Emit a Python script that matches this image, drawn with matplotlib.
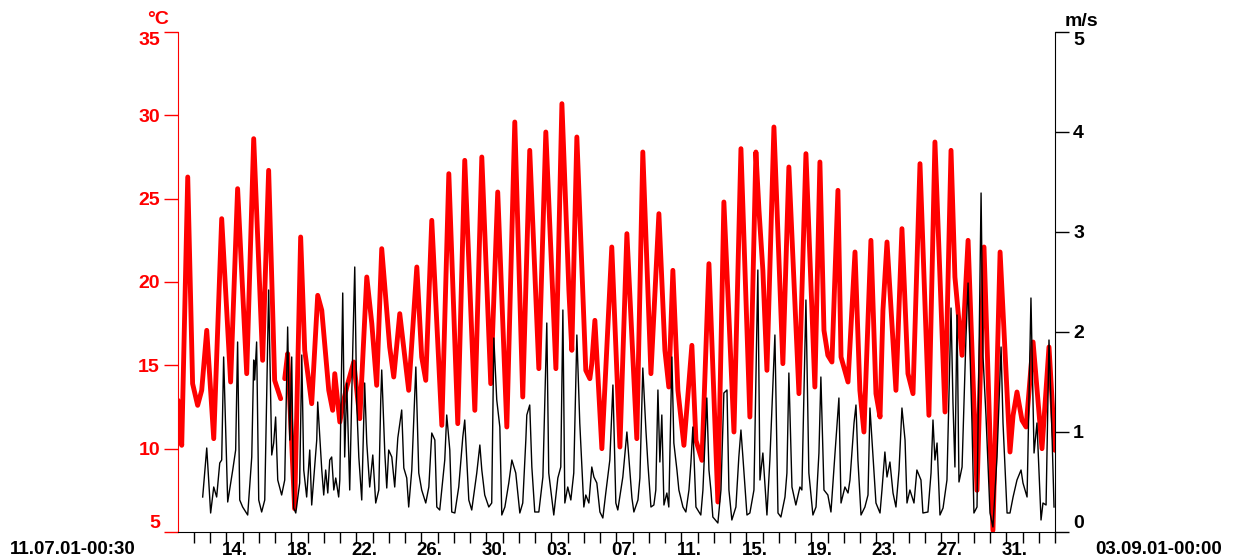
import numpy as np
import pandas as pd
import matplotlib
matplotlib.use("Agg")
import matplotlib.pyplot as plt

plt.rcParams['font.family'] = ['Liberation Sans', 'DejaVu Sans']
plt.rcParams['font.weight'] = 'bold'

# Daten (Tage seit 11.07.01 00:00)

t0 = pd.Timestamp('2001-07-11 00:00')
t_end = pd.Timestamp('2001-09-03 00:00')

temp_tag = [0.02, 0.25, 0.62, 0.92, 1.23, 1.48, 1.79, 2.22, 2.71, 3.26,
            3.69, 4.25, 4.68, 5.23, 5.60, 5.97, 6.34, 6.46, 6.59, 6.77,
            7.20, 7.57, 7.82, 8.25, 8.62, 8.87, 9.30, 9.54, 9.67, 9.98,
            10.22, 10.41, 10.84, 11.21, 11.64, 11.95, 12.25, 12.56, 13.05, 13.30,
            13.67, 14.22, 14.72, 15.02, 15.27, 15.64, 16.26, 16.69, 17.24, 17.67,
            18.29, 18.72, 19.27, 19.70, 20.26, 20.75, 21.24, 21.67, 22.23, 22.66,
            23.28, 23.65, 24.08, 24.26, 24.57, 25.12, 25.37, 25.49, 25.68, 26.11,
            26.72, 27.22, 27.65, 28.26, 28.63, 29.13, 29.62, 29.99, 30.23, 30.48,
            30.79, 31.16, 31.65, 31.90, 32.27, 32.70, 33.25, 33.62, 34.24, 34.67,
            35.22, 35.59, 35.78, 36.02, 36.27, 36.70, 37.25, 37.62, 38.24, 38.67,
            39.22, 39.53, 39.78, 40.02, 40.27, 40.64, 40.83, 41.26, 41.69, 41.99,
            42.24, 42.67, 42.98, 43.23, 43.41, 43.66, 44.21, 44.58, 44.95, 45.26,
            45.69, 46.24, 46.61, 47.23, 47.60, 47.84, 48.28, 48.65, 49.20, 49.63,
            50.18, 50.62, 51.23, 51.42, 51.66, 51.97, 52.22, 52.65, 53.20, 53.63,
            54.00]
temp = [12.9, 10.2, 26.3, 13.9, 12.6, 13.5, 17.1, 10.6, 23.8, 14.0,
        25.6, 14.5, 28.6, 15.3, 26.7, 14.1, 13.0, np.nan, 14.2, 15.7,
        6.4, 22.7, 15.9, 12.7, 19.2, 18.3, 13.5, 12.3, 14.5, 11.6,
        12.9, 13.7, 15.2, 11.8, 20.3, 17.5, 13.8, 22.0, 16.1, 14.3,
        18.1, 13.5, 20.9, 15.5, 14.1, 23.7, 11.4, 26.5, 11.5, 27.3,
        12.3, 27.5, 13.9, 25.4, 11.3, 29.6, 13.1, 27.9, 14.8, 29.0,
        14.8, 30.7, 19.5, 15.9, 28.7, 14.7, 14.2, 15.1, 17.7, 10.0,
        22.1, 10.1, 22.9, 10.6, 27.8, 14.5, 24.1, 15.9, 13.7, 20.7,
        13.5, 10.2, 16.2, 10.5, 9.3, 21.1, 6.8, 24.8, 11.0, 28.0,
        11.9, 27.8, 24.3, 20.7, 14.7, 29.3, 15.1, 26.9, 13.3, 27.7,
        13.7, 27.2, 17.1, 15.6, 15.2, 25.5, 15.5, 14.0, 21.8, 13.5,
        11.0, 22.5, 13.3, 11.9, 18.3, 22.4, 13.5, 23.2, 14.5, 13.3,
        27.1, 12.0, 28.4, 12.2, 27.9, 20.3, 15.6, 22.5, 7.5, 22.1,
        5.1, 21.8, 9.8, 12.0, 13.4, 11.7, 11.3, 16.4, 10.0, 16.1,
        9.9]

wind_tag = [1.54, 1.79, 2.03, 2.22, 2.40, 2.59, 2.71, 2.83, 3.02, 3.08,
            3.39, 3.57, 3.69, 3.82, 4.00, 4.31, 4.56, 4.68, 4.74, 4.86,
            4.99, 5.17, 5.36, 5.60, 5.79, 5.91, 6.03, 6.16, 6.40, 6.59,
            6.77, 6.90, 7.02, 7.14, 7.27, 7.51, 7.64, 7.76, 7.94, 8.13,
            8.25, 8.56, 8.62, 8.87, 8.99, 9.11, 9.24, 9.36, 9.48, 9.61,
            9.73, 9.91, 9.98, 10.16, 10.28, 10.41, 10.59, 10.78, 10.90, 11.02,
            11.15, 11.33, 11.51, 11.64, 11.82, 12.01, 12.19, 12.38, 12.50, 12.56,
            12.75, 12.87, 12.99, 13.18, 13.36, 13.55, 13.79, 13.92, 14.10, 14.22,
            14.41, 14.66, 14.84, 15.02, 15.27, 15.46, 15.64, 15.83, 15.95, 16.13,
            16.44, 16.56, 16.75, 16.87, 17.06, 17.30, 17.55, 17.67, 17.92, 18.10,
            18.41, 18.60, 18.72, 18.90, 19.15, 19.33, 19.46, 19.64, 19.83, 19.95,
            20.14, 20.38, 20.57, 20.81, 21.06, 21.24, 21.43, 21.49, 21.67, 21.80,
            21.98, 22.23, 22.48, 22.72, 22.84, 23.15, 23.40, 23.58, 23.71, 23.83,
            24.01, 24.20, 24.38, 24.57, 24.75, 25.00, 25.12, 25.31, 25.49, 25.62,
            25.80, 25.99, 26.17, 26.35, 26.60, 26.79, 26.97, 27.09, 27.40, 27.65,
            27.77, 27.96, 28.08, 28.33, 28.45, 28.63, 28.82, 28.94, 29.13, 29.31,
            29.43, 29.56, 29.68, 29.80, 29.93, 30.11, 30.23, 30.42, 30.54, 30.73,
            30.85, 31.10, 31.28, 31.47, 31.59, 31.71, 31.90, 32.20, 32.33, 32.57,
            32.70, 32.82, 32.94, 33.25, 33.44, 33.62, 33.81, 33.93, 34.11, 34.36,
            34.54, 34.67, 34.79, 35.04, 35.22, 35.47, 35.71, 35.84, 36.02, 36.27,
            36.45, 36.76, 36.95, 37.13, 37.38, 37.50, 37.62, 37.81, 38.05, 38.30,
            38.42, 38.67, 38.85, 39.10, 39.29, 39.47, 39.59, 39.78, 40.02, 40.21,
            40.46, 40.70, 40.83, 41.07, 41.26, 41.38, 41.63, 41.75, 41.87, 42.06,
            42.30, 42.49, 42.61, 42.80, 42.98, 43.23, 43.35, 43.53, 43.66, 43.84,
            44.03, 44.21, 44.40, 44.58, 44.77, 44.89, 45.07, 45.32, 45.50, 45.75,
            45.87, 46.18, 46.37, 46.49, 46.61, 46.74, 46.92, 47.11, 47.35, 47.60,
            47.72, 47.84, 47.97, 48.09, 48.28, 48.52, 48.65, 48.89, 49.01, 49.20,
            49.45, 49.57, 49.75, 50.00, 50.18, 50.43, 50.68, 50.80, 51.05, 51.23,
            51.42, 51.66, 51.91, 52.03, 52.28, 52.52, 52.71, 52.89, 53.14, 53.26,
            53.45, 53.63, 53.82, 53.94]
wind = [0.35, 0.84, 0.19, 0.45, 0.35, 0.69, 0.72, 1.75, 0.64, 0.30,
        0.62, 0.82, 1.90, 0.32, 0.25, 0.17, 0.75, 1.72, 1.52, 1.90,
        0.32, 0.20, 0.32, 2.42, 0.77, 0.89, 1.15, 0.52, 0.37, 0.52,
        2.05, 0.92, 1.75, 0.24, 0.19, 0.49, 1.77, 0.62, 0.35, 0.82,
        0.27, 0.92, 1.30, 0.62, 0.37, 0.62, 0.39, 0.72, 0.75, 0.42,
        0.54, 0.35, 0.52, 2.39, 0.75, 1.49, 0.42, 1.85, 2.65, 1.29,
        0.75, 0.32, 1.49, 0.89, 0.45, 0.77, 0.29, 0.42, 1.32, 1.62,
        0.79, 0.44, 0.82, 0.75, 0.45, 0.94, 1.22, 0.64, 0.54, 0.25,
        0.62, 1.65, 0.59, 0.42, 0.29, 0.45, 0.99, 0.92, 0.25, 0.22,
        0.72, 1.17, 0.82, 0.20, 0.19, 0.45, 0.95, 1.12, 0.32, 0.22,
        0.59, 0.87, 0.62, 0.37, 0.25, 0.29, 1.94, 1.32, 1.05, 0.17,
        0.25, 0.49, 0.72, 0.59, 0.19, 0.29, 0.92, 1.17, 1.27, 0.65,
        0.20, 0.20, 0.55, 2.09, 0.59, 0.17, 0.54, 0.65, 2.22, 0.29,
        0.45, 0.32, 0.59, 1.97, 1.09, 0.25, 0.37, 0.29, 0.65, 0.55,
        0.49, 0.20, 0.14, 0.39, 0.72, 1.47, 0.29, 0.22, 0.55, 1.00,
        0.75, 0.34, 0.20, 0.32, 0.54, 1.64, 1.02, 0.69, 0.25, 0.27,
        0.42, 1.42, 0.70, 1.17, 0.27, 0.39, 0.25, 1.75, 0.89, 0.62,
        0.42, 0.25, 0.20, 0.42, 0.69, 1.05, 0.25, 0.17, 0.42, 1.34,
        0.62, 0.42, 0.15, 0.09, 0.42, 1.39, 1.42, 0.42, 0.12, 0.25,
        0.75, 1.02, 0.75, 0.17, 0.19, 0.42, 2.62, 0.52, 0.79, 0.17,
        0.72, 1.97, 0.19, 0.15, 0.35, 0.59, 1.59, 0.45, 0.27, 0.45,
        0.42, 2.32, 0.59, 0.17, 0.25, 0.79, 1.55, 0.42, 0.37, 0.20,
        0.79, 1.34, 0.29, 0.45, 0.39, 0.52, 1.09, 1.27, 0.72, 0.17,
        0.25, 0.37, 1.24, 0.75, 0.29, 0.19, 0.42, 0.80, 0.55, 0.70,
        0.39, 0.25, 0.62, 1.24, 0.92, 0.29, 0.42, 0.29, 0.62, 0.52,
        0.19, 0.20, 0.59, 1.12, 0.72, 0.89, 0.17, 0.24, 0.52, 2.24,
        1.29, 0.65, 2.17, 0.50, 0.65, 1.95, 2.49, 1.09, 0.19, 0.25,
        3.39, 1.75, 1.17, 0.19, 0.05, 0.75, 1.85, 1.09, 0.19, 0.19,
        0.35, 0.52, 0.62, 0.49, 0.35, 2.34, 0.79, 1.09, 0.12, 0.29,
        0.27, 1.92, 0.95, 0.25]

temp_ticks = [5, 10, 15, 20, 25, 30, 35]
wind_ticks = [0, 1, 2, 3, 4, 5]

# Zeitachse

t_temp = t0 + pd.to_timedelta(temp_tag, unit='D')
t_wind = t0 + pd.to_timedelta(wind_tag, unit='D')
t_start = t0 + pd.Timedelta(minutes=30)

fig = plt.figure(figsize=(12.37, 5.6), dpi=100)
ax = fig.add_axes([178/1237, 28/560, 877/1237, 500/560])
ax2 = ax.twinx()

ax.plot(t_temp, temp, color='#ff0000', lw=3.5, solid_capstyle='round', solid_joinstyle='round')
ax2.plot(t_wind, wind, color='black', lw=1.0)

ax.set_xlim(t_start, t_end)
ax.set_ylim(5, 35)
ax2.set_ylim(0, 5)

# Achsen

for a in (ax, ax2):
    a.spines['top'].set_visible(False)
ax.spines['right'].set_visible(False)
ax.spines['left'].set_color('#ff0000')
ax2.spines['left'].set_visible(False)
ax2.spines['bottom'].set_visible(False)
ax2.spines['right'].set_color('black')

ax.set_yticks(temp_ticks)
ax.set_yticklabels([str(v) for v in temp_ticks])
ax.tick_params(axis='y', colors='#ff0000', length=10, width=1, labelsize=14, pad=3)
ax2.set_yticks(wind_ticks)
ax2.set_yticklabels([str(v) for v in wind_ticks])
ax2.tick_params(axis='y', colors='black', length=10, width=1, labelsize=14, pad=3)

for lab_list in (ax.get_yticklabels(), ax2.get_yticklabels()):
    lab_list[0].set_va('bottom')
    lab_list[-1].set_va('top')

# Tagesstriche, Beschriftung alle 4 Tage (mittig am Tag)
tage = pd.date_range('2001-07-12', '2001-09-03', freq='D')
beschr = pd.date_range('2001-07-14', '2001-08-31', freq='4D')
ax.set_xticks(list(tage))
ax.set_xticklabels([""] * len(tage))
ax.set_xticks(list(beschr + pd.Timedelta(hours=12)), minor=True)
ax.set_xticklabels([f"{d.day:02d}." for d in beschr], minor=True)
ax.tick_params(axis='x', which='major', length=8, width=1, colors='black')
ax.tick_params(axis='x', which='minor', length=0, labelsize=13.5, pad=7, colors='black')

fig.text(158/1237, 1 - 20/560, "°C", color='#ff0000', fontsize=14, ha='center', va='center')
fig.text(1081/1237, 1 - 22/560, "m/s", color='black', fontsize=14, ha='center', va='center')
fig.text(10/1237, 1 - 549/560, "11.07.01-00:30", fontsize=13.5, ha='left', va='center')
fig.text(1222/1237, 1 - 549/560, "03.09.01-00:00", fontsize=13.5, ha='right', va='center')

fig.savefig("out.png", dpi=100)
